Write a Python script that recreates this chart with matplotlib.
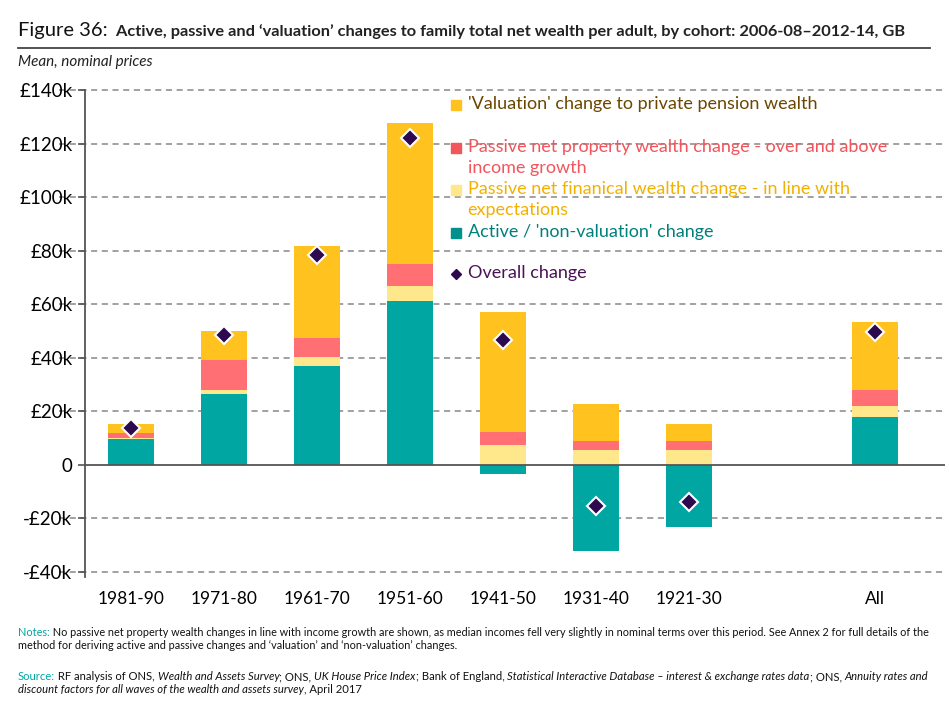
import matplotlib
matplotlib.use('Agg')
import matplotlib.pyplot as plt
import numpy as np

# Dados (milhares de libras)
coortes = ['1981-90', '1971-80', '1961-70', '1951-60', '1941-50', '1931-40', '1921-30', 'All']
posicoes = [0, 1, 2, 3, 4, 5, 6, 8]
activo = [9.7, 26.5, 36.7, 61.2, -3.5, -32.1, -23.3, 17.9]
financeiro = [0.4, 1.5, 3.5, 5.7, 7.2, 5.6, 5.6, 3.9]
propriedade = [1.9, 11.2, 7.3, 8.0, 5.0, 3.1, 3.1, 5.9]
valorizacao = [3.3, 10.6, 34.2, 52.8, 44.8, 14.1, 6.5, 25.5]
total = [13.7, 48.5, 78.4, 122.1, 46.4, -15.3, -13.8, 49.5]

yticks = [-40, -20, 0, 20, 40, 60, 80, 100, 120, 140]
ytick_labels = ['-£40k', '-£20k', '0', '£20k', '£40k', '£60k', '£80k', '£100k', '£120k', '£140k']

# Cores
cor_activo = '#00A6A2'
cor_fin = '#FFE88C'
cor_prop = '#FF6F74'
cor_val = '#FFC21F'
cor_total = '#2D0A4E'

plt.rcParams['font.family'] = ['Lato', 'DejaVu Sans']

fig = plt.figure(figsize=(9.49, 7.2), dpi=100)
ax = fig.add_axes([85 / 949, 1 - 577 / 720, 860 / 949, 487 / 720])

x = np.array(posicoes, dtype=float)
activo = np.array(activo)
financeiro = np.array(financeiro)
propriedade = np.array(propriedade)
valorizacao = np.array(valorizacao)

largura = 0.5
base_pos = np.where(activo > 0, activo, 0)
ax.bar(x, activo, largura, color=cor_activo, zorder=3)
ax.bar(x, financeiro, largura, bottom=base_pos, color=cor_fin, zorder=3)
ax.bar(x, propriedade, largura, bottom=base_pos + financeiro, color=cor_prop, zorder=3)
ax.bar(x, valorizacao, largura, bottom=base_pos + financeiro + propriedade, color=cor_val, zorder=3)
ax.plot(x, total, linestyle='none', marker='D', markersize=9, markerfacecolor=cor_total,
        markeredgecolor='white', markeredgewidth=1.5, zorder=5)

ax.set_ylim(-42, 140)
ax.set_xlim(-0.495, 8.75)
ax.set_yticks(yticks)
ax.set_yticklabels(ytick_labels, fontsize=13.5)
ax.set_xticks(x)
ax.set_xticklabels(coortes, fontsize=12.5)
ax.tick_params(axis='x', length=0, pad=10)
ax.tick_params(axis='y', length=5, width=1.2, color='#555555', pad=4)

for v in yticks:
    if v != 0:
        ax.axhline(v, color='#888888', linestyle=(0, (4, 3)), linewidth=1.1, zorder=1, xmin=-0.03, clip_on=False)
ax.axhline(0, color='#555555', linewidth=1.3, zorder=4)

for lado in ['top', 'right', 'bottom']:
    ax.spines[lado].set_visible(False)
ax.spines['left'].set_color('#555555')
ax.spines['left'].set_linewidth(1.3)

# Legenda desenhada à mão (espaçamento irregular como no original)
legenda = [
    ("'Valuation' change to private pension wealth", cor_val, '#6B4700', 0.969, 's'),
    ("Passive net property wealth change - over and above\nincome growth", '#F2555B', '#F2555B', 0.881, 's'),
    ("Passive net finanical wealth change - in line with\nexpectations", cor_fin, '#F2B000', 0.795, 's'),
    ("Active / 'non-valuation' change", '#00918D', '#00807C', 0.706, 's'),
    ("Overall change", cor_total, '#4A1256', 0.622, 'D'),
]
for texto, cor_marca, cor_texto, yy, marca in legenda:
    ax.plot([0.431], [yy], marker=marca, markersize=7 if marca == 's' else 5,
            color=cor_marca, transform=ax.transAxes, clip_on=False, zorder=6, linestyle='none')
    ax.text(0.445, yy + 0.019, texto, transform=ax.transAxes, fontsize=13, color=cor_texto,
            va='top', ha='left', linespacing=1.4, zorder=6)

# Título
t1 = fig.text(18 / 949, 1 - 36 / 720, 'Figure 36:', fontsize=14.5, color='#111111', va='baseline')
ax.annotate('  Active, passive and \u2018valuation\u2019 changes to family total net wealth per adult, by cohort: 2006-08\u20132012-14, GB',
            xy=(1, 0), xycoords=t1, va='bottom', fontsize=11.8, fontweight='bold', color='#222222')
fig.add_artist(plt.Line2D([18 / 949, 930 / 949], [1 - 48 / 720, 1 - 48 / 720], color='#444444', linewidth=1.3))
fig.text(18 / 949, 1 - 62 / 720, 'Mean, nominal prices', fontsize=11, style='italic', color='#222222', va='center')


def linha(partes, x0, y0, tamanho=7.9):
    # escreve pedaços de texto seguidos, cada um com o seu estilo
    anterior = None
    for texto, cor, estilo in partes:
        if anterior is None:
            anterior = fig.text(x0, y0, texto, fontsize=tamanho, color=cor, style=estilo, va='baseline')
        else:
            anterior = ax.annotate(texto, xy=(1, 0), xycoords=anterior, va='bottom', fontsize=tamanho,
                                   color=cor, style=estilo)


teal = '#00A6A2'
preto = '#111111'
linha([('Notes:', teal, 'normal'),
       (' No passive net property wealth changes in line with income growth are shown, as median incomes fell very slightly in nominal terms over this period. See Annex 2 for full details of the', preto, 'normal')],
      18 / 949, 1 - 636 / 720, 7.85)
linha([('method for deriving active and passive changes and \u2018valuation\u2019 and \u2018non-valuation\u2019 changes.', preto, 'normal')],
      18 / 949, 1 - 649 / 720, 7.85)
linha([('Source:', teal, 'normal'),
       (' RF analysis of ONS, ', preto, 'normal'),
       ('Wealth and Assets Survey', preto, 'italic'),
       ('; ONS, ', preto, 'normal'),
       ('UK House Price Index', preto, 'italic'),
       ('; Bank of England, ', preto, 'normal'),
       ('Statistical Interactive Database \u2013 interest & exchange rates data', preto, 'italic'),
       ('; ONS, ', preto, 'normal'),
       ('Annuity rates and', preto, 'italic')],
      18 / 949, 1 - 680 / 720, 8.1)
linha([('discount factors for all waves of the wealth and assets survey', preto, 'italic'),
       (', April 2017', preto, 'normal')],
      18 / 949, 1 - 693 / 720, 8.1)

fig.savefig('out.png', dpi=100)
